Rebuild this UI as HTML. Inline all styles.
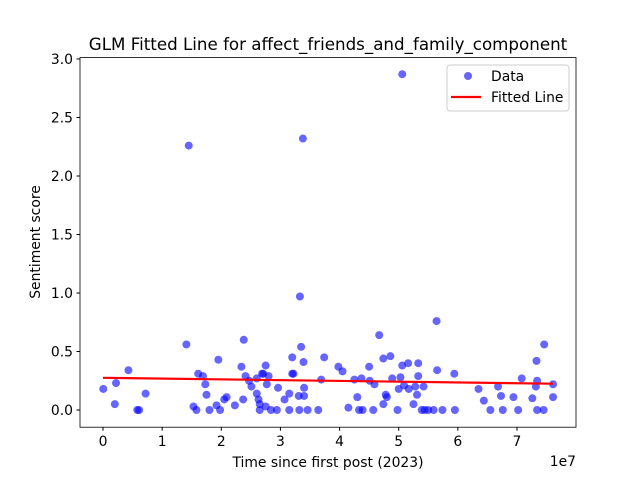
<!DOCTYPE html>
<html><head><meta charset="utf-8"><style>
body{margin:0;background:#fff}
svg text{font-family:"DejaVu Sans","Liberation Sans",sans-serif;fill:#000}
</style></head><body>
<svg id="chart" width="640" height="480" xmlns="http://www.w3.org/2000/svg">
<rect width="640" height="480" fill="#fff"/>
<text x="328" y="50" font-size="16.7" text-anchor="middle">GLM Fitted Line for affect_friends_and_family_component</text>
<g id="marks"></g>
<g id="axes"></g>
<text x="328" y="467" font-size="13.9" text-anchor="middle">Time since first post (2023)</text>
<text x="40" y="242" font-size="13.9" text-anchor="middle" transform="rotate(-90 40 242)">Sentiment score</text>
<text x="576" y="466" font-size="13.9" text-anchor="end">1e7</text>
<g>
<rect x="447" y="65" width="122" height="46" rx="3" fill="#fff" fill-opacity="0.8" stroke="#ccc"/>
<circle cx="468" cy="76" r="4" fill="#0000ff" fill-opacity="0.6"/>
<text x="491" y="81" font-size="13.9">Data</text>
<line x1="451" y1="97" x2="481" y2="97" stroke="#ff0000" stroke-width="2.2"/>
<text x="491" y="102" font-size="13.9">Fitted Line</text>
</g>
</svg>
<script>
const xVals=[0.005,0.22,0.43,0.20,0.58,0.61,0.72,1.41,1.45,1.53,1.58,1.61,1.69,1.73,1.75,1.80,1.95,1.92,1.98,2.05,2.09,2.23,2.37,2.38,2.34,2.41,2.47,2.51,2.60,2.60,2.63,2.65,2.65,2.71,2.75,2.77,2.80,2.69,2.75,2.84,2.94,2.96,3.07,3.15,3.15,3.20,3.20,3.22,3.32,3.31,3.33,3.35,3.38,3.39,3.40,3.40,3.46,3.64,3.69,3.74,3.98,4.05,4.15,4.25,4.30,4.33,4.39,4.37,4.50,4.51,4.59,4.57,4.67,4.74,4.74,4.78,4.80,4.86,4.89,4.98,5.00,5.03,5.06,5.06,5.09,5.16,5.17,5.25,5.28,5.31,5.33,5.33,5.42,5.39,5.44,5.50,5.59,5.64,5.65,5.74,5.94,5.95,6.35,6.44,6.55,6.68,6.73,6.76,6.94,7.02,7.08,7.26,7.33,7.34,7.32,7.34,7.45,7.46,7.61,7.61];
const yVals=[0.18,0.23,0.34,0.05,0,0,0.14,0.56,2.26,0.03,0,0.31,0.29,0.22,0.13,0,0.43,0.04,0,0.09,0.11,0.04,0.09,0.60,0.37,0.29,0.25,0.20,0.27,0.14,0.09,0.05,0,0.31,0.38,0.22,0.29,0.31,0.03,0,0,0.19,0.09,0.14,0,0.45,0.31,0.31,0,0.12,0.97,0.54,2.32,0.41,0.19,0.12,0,0,0.26,0.45,0.37,0.33,0.02,0.26,0.11,0,0,0.27,0.37,0.25,0.22,0,0.64,0.44,0.05,0.13,0.11,0.46,0.27,0,0.18,0.28,2.87,0.38,0.21,0.40,0.18,0.05,0.20,0.13,0.29,0.40,0.20,0,0,0,0,0.76,0.34,0,0.31,0,0.18,0.08,0,0.20,0.12,0,0.11,0,0.27,0.10,0.42,0.25,0.20,0,0,0.56,0.22,0.11];
const fitX=[0,7.61];
const fitY=[0.275,0.225];
const xTicks=[0,1,2,3,4,5,6,7];
const yTicks=[0,0.5,1.0,1.5,2.0,2.5,3.0];
const NS='http://www.w3.org/2000/svg';
const L=80,R=576,T=57.6,B=427.2;
const sx=v=>103+v*59.14;
const sy=v=>410-v*117;
const marks=document.getElementById('marks');
const axes=document.getElementById('axes');
for(let i=0;i<xVals.length;i++){
 const c=document.createElementNS(NS,'circle');
 c.setAttribute('cx',sx(xVals[i]));c.setAttribute('cy',sy(yVals[i]));c.setAttribute('r',4);
 c.setAttribute('fill','#0000ff');c.setAttribute('fill-opacity','0.6');
 
 
 marks.appendChild(c);
}
const fl=document.createElementNS(NS,'line');
fl.setAttribute('x1',sx(fitX[0]));fl.setAttribute('y1',sy(fitY[0]));
fl.setAttribute('x2',sx(fitX[1]));fl.setAttribute('y2',sy(fitY[1]));
fl.setAttribute('stroke','#ff0000');fl.setAttribute('stroke-width','2.2');


marks.appendChild(fl);
const fr=document.createElementNS(NS,'rect');
fr.setAttribute('x',L);fr.setAttribute('y',T);fr.setAttribute('width',R-L);fr.setAttribute('height',B-T);
fr.setAttribute('fill','none');fr.setAttribute('stroke','#000');fr.setAttribute('stroke-width','0.8');


axes.appendChild(fr);
xTicks.forEach(t=>{
 const x=sx(t);
 const l=document.createElementNS(NS,'line');
 l.setAttribute('x1',x);l.setAttribute('x2',x);l.setAttribute('y1',B);l.setAttribute('y2',B+3.5);l.setAttribute('stroke','#000');
 
 
 axes.appendChild(l);
 const tx=document.createElementNS(NS,'text');
 tx.setAttribute('x',x);tx.setAttribute('y',B+19);tx.setAttribute('font-size','13.9');tx.setAttribute('text-anchor','middle');
 tx.textContent=t;
 
 
 axes.appendChild(tx);
});
yTicks.forEach(t=>{
 const y=sy(t);
 const l=document.createElementNS(NS,'line');
 l.setAttribute('x1',L-3.5);l.setAttribute('x2',L);l.setAttribute('y1',y);l.setAttribute('y2',y);l.setAttribute('stroke','#000');
 
 
 axes.appendChild(l);
 const tx=document.createElementNS(NS,'text');
 tx.setAttribute('x',L-7);tx.setAttribute('y',y+5);tx.setAttribute('font-size','13.9');tx.setAttribute('text-anchor','end');
 tx.textContent=t.toFixed(1);
 
 
 axes.appendChild(tx);
});
</script>
</body></html>
